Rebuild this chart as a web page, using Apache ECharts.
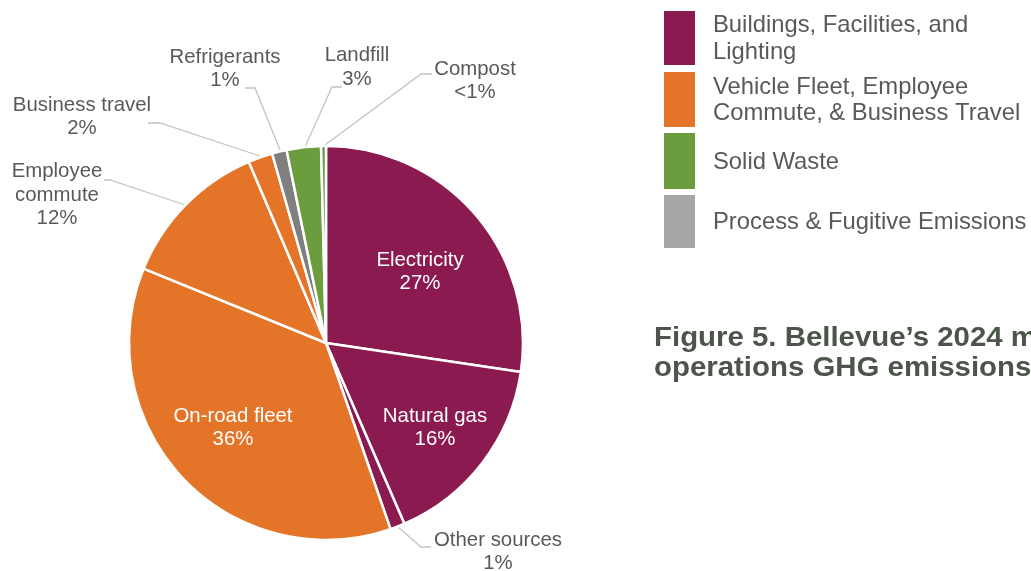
<!DOCTYPE html>
<html><head><meta charset="utf-8">
<script src="https://cdn.jsdelivr.net/npm/echarts@6/dist/echarts.min.js"></script>
<style>html,body{margin:0;padding:0;background:#fff}#c{width:1031px;height:571px}</style>
</head><body><div id="c"></div>
<script>
// ---- data ----
const categories = ['Electricity','Natural gas','Other sources','On-road fleet','Employee commute','Business travel','Refrigerants','Landfill','Compost'];
const labelNames = ['Electricity','Natural gas','Other sources','On-road fleet','Employee\ncommute','Business travel','Refrigerants','Landfill','Compost'];
const values = [27.3, 16.1, 1.2, 36.4, 12.4, 2.0, 1.2, 2.8, 0.4];
const pctLabels = ['27%','16%','1%','36%','12%','2%','1%','3%','<1%'];
const sliceGroup = [0,0,0,1,1,1,3,2,2];
const groupNames = ['Buildings, Facilities, and\nLighting','Vehicle Fleet, Employee\nCommute, & Business Travel','Solid Waste','Process & Fugitive Emissions'];
const titleLines = ['Figure 5. Bellevue\u2019s 2024 municipal','operations GHG emissions'];

// ---- styling ----
const sliceColors = ['#8A1A50','#E47428','#6B9C3E','#7F7F7F'];
const legendColors = ['#8A1A50','#E47428','#6B9C3E','#A6A6A6'];
const insideIdx = [0,1,3];
const labelLayoutCfg = {
  0: {x:420, y:272},
  1: {x:435, y:428},
  2: {x:498, y:552, line:[[398,527],[421,547],[431,547]]},
  3: {x:233, y:428},
  4: {x:57, y:195, line:[[185,205],[110,180],[104,180]]},
  5: {x:82, y:117, line:[[260,156],[160,123],[148,123]]},
  6: {x:225, y:69, line:[[280,150],[255,88],[245,88]]},
  7: {x:357, y:67.5, line:[[305,147],[332,87],[342,87]]},
  8: {x:475, y:81, line:[[325,145],[421,74],[432,74]]}
};

const FONT = '"Liberation Sans", Arial, sans-serif';
const chart = echarts.init(document.getElementById('c'), null, {renderer:'canvas'});

const pieData = categories.map((c, i) => {
  const inside = insideIdx.includes(i);
  return {
    name: c,
    value: values[i],
    itemStyle: {color: sliceColors[sliceGroup[i]]},
    label: {
      show: true,
      position: inside ? 'inside' : 'outside',
      color: inside ? '#ffffff' : '#595959',
      formatter: labelNames[i] + '\n' + pctLabels[i]
    },
    labelLine: {show: !inside}
  };
});

const graphics = [];
const rects = [[11,65],[72,127],[133,189],[195,248]];
legendColors.forEach((col, i) => {
  graphics.push({type:'rect', shape:{x:664, y:rects[i][0], width:31, height:rects[i][1]-rects[i][0]}, style:{fill:col}, silent:true});
  graphics.push({type:'text', x:713, y:(rects[i][0]+rects[i][1])/2 + 1,
    style:{text:groupNames[i], fill:'#595959', font:'23.8px ' + FONT, lineHeight:26.5, textAlign:'left', textVerticalAlign:'middle'}, silent:true});
});
graphics.push({type:'text', x:654, y:353, scaleX:1.05,
  style:{text:titleLines.join('\n'), fill:'#4B5549', font:'bold 28px ' + FONT, lineHeight:30, textAlign:'left', textVerticalAlign:'middle'}, silent:true});

chart.setOption({
  animation:false,
  backgroundColor:'#ffffff',
  series:[{
    type:'pie',
    center:[326,343],
    radius:[0,197],
    startAngle:90,
    clockwise:true,
    avoidLabelOverlap:false,
    itemStyle:{borderColor:'#ffffff', borderWidth:2.5},
    label:{fontFamily:FONT, fontSize:20.4, lineHeight:23.5, align:'center'},
    labelLine:{lineStyle:{color:'#C4C4C4', width:1.3}, smooth:false},
    labelLayout: function (params) {
      const p = labelLayoutCfg[params.dataIndex];
      const r = {x:p.x, y:p.y, align:'center', verticalAlign:'middle'};
      if (p.line) r.labelLinePoints = p.line;
      return r;
    },
    data: pieData
  }],
  graphic: graphics
});
</script>
</body></html>
